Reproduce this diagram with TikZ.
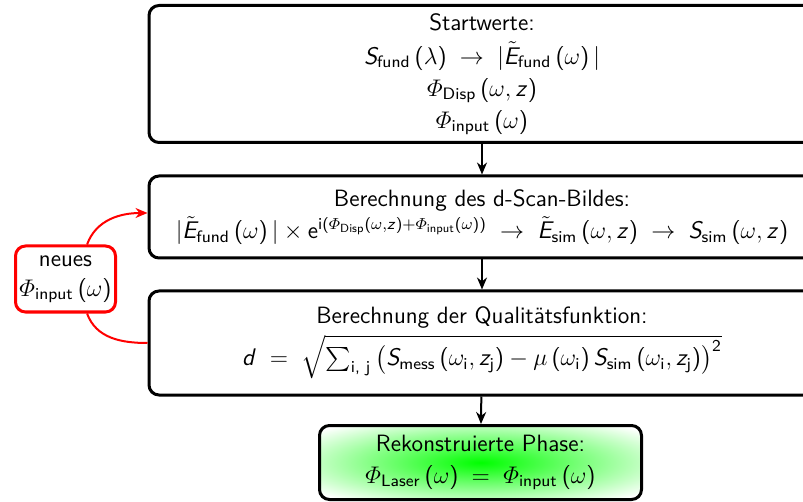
\documentclass[tikz,border=0pt]{standalone}
\usepackage{amsmath}
\DeclareSymbolFont{sfletters}{OT1}{cmss}{m}{sl}
\DeclareSymbolFont{sfupright}{OT1}{cmss}{m}{n}
\DeclareMathSymbol{S}{\mathalpha}{sfletters}{`S}
\DeclareMathSymbol{E}{\mathalpha}{sfletters}{`E}
\DeclareMathSymbol{z}{\mathalpha}{sfletters}{`z}
\DeclareMathSymbol{d}{\mathalpha}{sfletters}{`d}
\DeclareMathSymbol{+}{\mathbin}{sfupright}{`+}
\DeclareMathSymbol{=}{\mathrel}{sfupright}{`=}
\DeclareMathSymbol{(}{\mathopen}{sfupright}{`(}
\DeclareMathSymbol{)}{\mathclose}{sfupright}{`)}
\renewcommand{\familydefault}{\sfdefault}
\usetikzlibrary{arrows.meta}
\pgfdeclareradialshading{gshade}{\pgfpoint{0bp}{0bp}}{color(0bp)=(green); color(13bp)=(green!60!white); color(33bp)=(white); color(50bp)=(white)}
\begin{document}
\begin{tikzpicture}[x=0.5pt,y=-0.5pt,
  box/.style={draw=black, line width=1.5pt, rounded corners=5pt, align=center, inner sep=0pt, fill=white,
    font=\fontsize{11.8pt}{14pt}\selectfont},
  redbox/.style={draw=red, line width=1.5pt, rounded corners=5pt, align=center, inner sep=0pt, fill=white,
    font=\fontsize{11.8pt}{14pt}\selectfont},
  arr/.style={-{Stealth[length=6pt,width=5pt]}, line width=1pt},
  redarr/.style={draw=red, line width=1pt}
]
\useasboundingbox (0,0) rectangle (803,502);
\node[box, minimum width=333pt, minimum height=68.5pt] (start) at (482,74)
  {Startwerte:\\[3pt]
   $S_{\text{fund}}\,(\lambda)\;\rightarrow\;\lvert\tilde{E}_{\text{fund}}\,(\omega)\,\rvert$\\[2pt]
   $\varPhi_{\text{Disp}}\,(\omega,z)$\\[2pt]
   $\varPhi_{\text{input}}\,(\omega)$};
\node[box, minimum width=333pt, minimum height=41pt] (scan) at (482,217)
  {Berechnung des d-Scan-Bildes:\\[2pt]
   $\lvert\tilde{E}_{\text{fund}}\,(\omega)\,\rvert\times\text{e}^{\text{i}(\varPhi_{\text{Disp}}(\omega,z)+\varPhi_{\text{input}}(\omega))}\;\rightarrow\;\tilde{E}_{\text{sim}}\,(\omega,z)\;\rightarrow\;S_{\text{sim}}\,(\omega,z)$};
\node[box, minimum width=333pt, minimum height=52pt] (qual) at (482,343)
  {Berechnung der Qualit\"atsfunktion:\\[2pt]
   $d\;=\;\sqrt{\sum_{\text{i, j}}\big(S_{\text{mess}}\,(\omega_{\text{i}},z_{\text{j}})-\mu\,(\omega_{\text{i}})\,S_{\text{sim}}\,(\omega_{\text{i}},z_{\text{j}})\big)^{\text{2}}}$};
\node[box, minimum width=161pt, minimum height=37pt, shading=gshade] (res) at (480.5,462.5)
  {Rekonstruierte Phase:\\[2pt]
   $\varPhi_{\text{Laser}}\,(\omega)\;=\;\varPhi_{\text{input}}\,(\omega)$};
\node[redbox, minimum width=50pt, minimum height=33pt] (neu) at (65.5,279)
  {neues\\[1pt] $\varPhi_{\text{input}}\,(\omega)$};
\draw[arr] (start) -- (scan);
\draw[arr] (scan) -- (qual);
\draw[arr] (qual) -- (res);
\draw[redarr, -{Stealth[length=6pt,width=5pt]}] (neu.58) to[out=70, in=180] ([yshift=2pt]scan.west);
\draw[redarr] (qual.west) to[out=180, in=-70] (neu.-58);
\end{tikzpicture}
\end{document}
